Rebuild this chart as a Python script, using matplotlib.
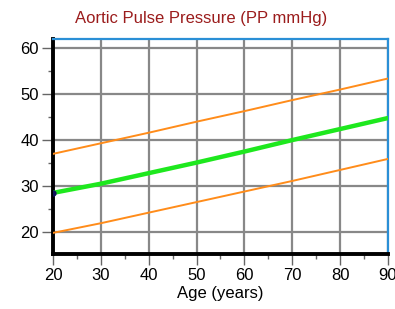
import matplotlib.pyplot as plt
from matplotlib.ticker import MultipleLocator

plt.rcParams['font.family'] = ['Liberation Sans', 'DejaVu Sans']

age = [20, 30, 40, 50, 60, 70, 80, 90]
pp_mean = [28.5, 30.5, 32.8, 35.1, 37.5, 40.0, 42.4, 44.8]
pp_upper = [37.0, 39.3, 41.6, 44.0, 46.3, 48.7, 51.0, 53.4]
pp_lower = [19.8, 21.9, 24.2, 26.5, 28.8, 31.1, 33.5, 35.9]

fig = plt.figure(figsize=(3.95, 3.09), dpi=100)
ax = fig.add_axes([53 / 395, 1 - 254 / 309, 335 / 395, 215 / 309])

ax.plot(age, pp_upper, color='#ff8c1a', lw=1.4, zorder=3)
ax.plot(age, pp_lower, color='#ff8c1a', lw=1.4, zorder=3)
ax.plot(age, pp_mean, color='#1ee81e', lw=3.2, zorder=4)
ax.plot(age[0], pp_mean[0], 'o', color='#10105a', ms=3.5, zorder=5)

ax.set_xlim(20, 90)
ax.set_ylim(15.2, 62)
ax.xaxis.set_major_locator(MultipleLocator(10))
ax.xaxis.set_minor_locator(MultipleLocator(5))
ax.yaxis.set_major_locator(MultipleLocator(10))
ax.yaxis.set_minor_locator(MultipleLocator(5))
ax.grid(which='major', color='#888888', lw=1.6)
ax.set_axisbelow(True)

for side in ['left', 'bottom']:
    ax.spines[side].set_color('black')
    ax.spines[side].set_linewidth(2.8)
for side in ['top', 'right']:
    ax.spines[side].set_color('#2a8fd6')
    ax.spines[side].set_linewidth(1.6)

ax.tick_params(which='major', length=8, width=1, color='#666666', labelsize=12, pad=2)
ax.tick_params(which='minor', length=3.5, width=1, color='#666666')

ax.set_xlabel('Age (years)', fontsize=12, labelpad=2)
fig.text(0.51, 1 - 18 / 309, 'Aortic Pulse Pressure (PP mmHg)', color='#9b1c1c',
         fontsize=12, ha='center', va='center')

fig.savefig('out.png', dpi=100)
